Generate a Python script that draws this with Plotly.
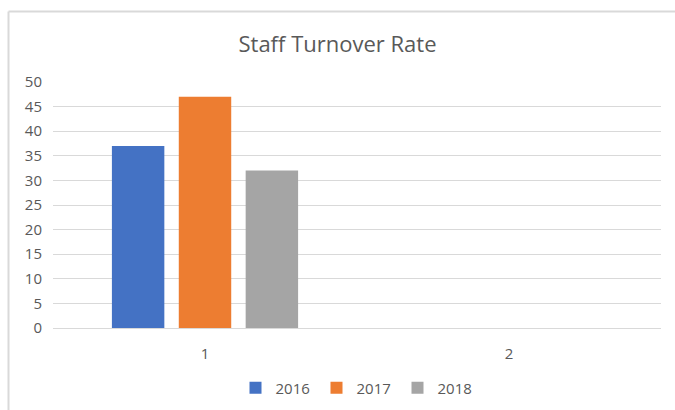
import plotly.graph_objects as go

categories = ["1", "2"]
series_names = ["2016", "2017", "2018"]
values_2016 = [37, None]
values_2017 = [47, None]
values_2018 = [32, None]
colors = ["#4472C4", "#ED7D31", "#A5A5A5"]
y_ticks = [0, 5, 10, 15, 20, 25, 30, 35, 40, 45, 50]

fig = go.Figure()
for name, vals, col in zip(series_names, [values_2016, values_2017, values_2018], colors):
    fig.add_trace(go.Bar(x=categories, y=vals, name=name, marker=dict(color=col, line=dict(width=0))))

font_family = "Open Sans"
fig.update_layout(
    width=675, height=410,
    margin=dict(l=53, r=14, t=82, b=82, autoexpand=False),
    paper_bgcolor="white", plot_bgcolor="white",
    title=dict(text="Staff Turnover Rate", x=0.5, xanchor="center", y=1 - 44/410, yanchor="middle",
               font=dict(family=font_family, size=22, color="#595959")),
    barmode="group", bargap=0.34, bargroupgap=0.216,
    showlegend=True,
    legend=dict(orientation="h", x=0.5, xanchor="center", yref="container", y=1 - 388/410,
                yanchor="middle",
                font=dict(family=font_family, size=15, color="#595959"),
                entrywidth=36, entrywidthmode="pixels",
                traceorder="normal"),
    xaxis=dict(type="category", showgrid=False, showline=True, linecolor="#d9d9d9", linewidth=1,
               ticks="", ticklabelstandoff=12,
               tickfont=dict(family=font_family, size=15, color="#595959")),
    yaxis=dict(range=[0, 50], tickvals=y_ticks, showgrid=True, gridcolor="#d9d9d9", gridwidth=1,
               zeroline=False, showline=False, ticks="", ticklabelstandoff=10,
               tickfont=dict(family=font_family, size=15, color="#595959")),
    font=dict(family=font_family, color="#595959"),
)
# chart-area border (top and left edges visible in the reference)
px_x = lambda p: (p - 53) / 608
px_y = lambda p: (328 - p) / 246
fig.add_shape(type="line", xref="paper", yref="paper",
              x0=px_x(8.5), x1=px_x(680), y0=px_y(11.5), y1=px_y(11.5),
              line=dict(color="#d9d9d9", width=2), layer="below")
fig.add_shape(type="line", xref="paper", yref="paper",
              x0=px_x(8.5), x1=px_x(8.5), y0=px_y(11.5), y1=px_y(415),
              line=dict(color="#d9d9d9", width=2), layer="below")
fig.write_html("out.html", config={"displayModeBar": False},
               post_script="document.body.style.margin='0';")
